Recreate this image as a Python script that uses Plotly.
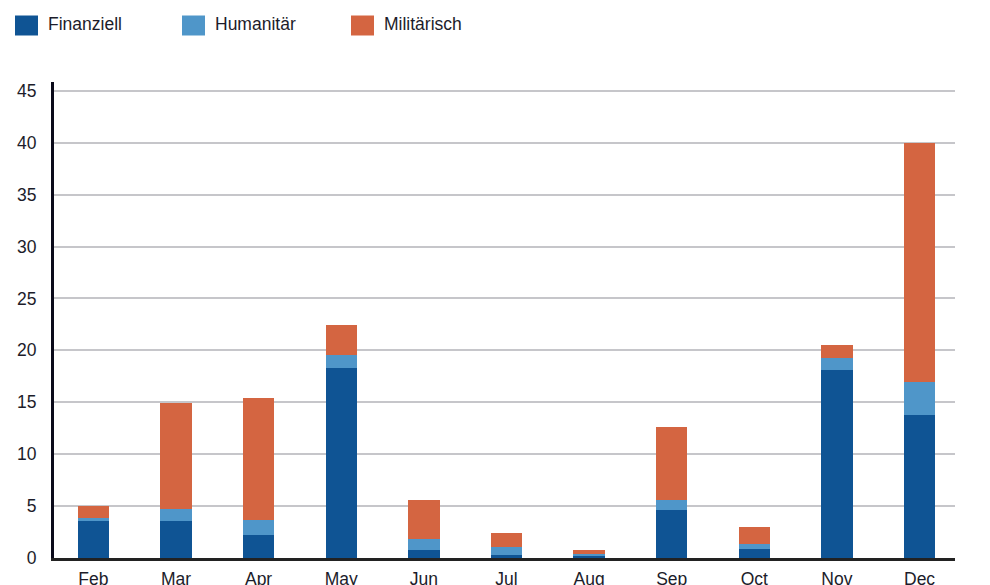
import plotly.graph_objects as go

months = ["Feb", "Mar", "Apr", "May", "Jun", "Jul", "Aug", "Sep", "Oct", "Nov", "Dec"]
finanziell = [3.6, 3.6, 2.2, 18.3, 0.8, 0.3, 0.25, 4.6, 0.9, 18.1, 13.75]
humanitaer = [0.3, 1.1, 1.5, 1.3, 1.0, 0.75, 0.15, 1.0, 0.45, 1.2, 3.2]
militaerisch = [1.1, 10.2, 11.7, 2.8, 3.8, 1.4, 0.4, 7.0, 1.6, 1.2, 23.0]
series_names = ["Finanziell", "Humanitär", "Militärisch"]
colors = ["#0f5494", "#4f96c9", "#d46541"]
yticks = [0, 5, 10, 15, 20, 25, 30, 35, 40, 45]

FONT = "Liberation Sans, Arial, Helvetica, sans-serif"
TXT = "#1c1c2a"

fig = go.Figure()
for name, vals, c in zip(series_names, [finanziell, humanitaer, militaerisch], colors):
    fig.add_trace(go.Bar(x=months, y=vals, name=name, marker=dict(color=c, line=dict(width=0)),
                         width=0.38, showlegend=False))

# custom legend (large square swatches)
leg_x = [15, 182, 351]
for name, c, lx in zip(series_names, colors, leg_x):
    fig.add_shape(type="rect", xref="paper", yref="paper",
                  x0=(lx - 54) / 901, x1=(lx + 23 - 54) / 901,
                  y0=(558.5 - 36) / 476, y1=(558.5 - 16) / 476,
                  fillcolor=c, line=dict(width=0))
    fig.add_annotation(xref="paper", yref="paper", x=(lx + 31 - 54) / 901, y=(558.5 - 25) / 476,
                       text=name, showarrow=False, xanchor="left", yanchor="middle",
                       font=dict(family=FONT, size=17.5, color=TXT))

fig.update_layout(
    width=990, height=585,
    margin=dict(l=54, r=35, t=82, b=27, autoexpand=False),
    paper_bgcolor="white", plot_bgcolor="white",
    barmode="stack",
    font=dict(family=FONT, size=17, color=TXT),
    xaxis=dict(type="category", range=[-0.476, 10.429], showline=True, linecolor="#222222",
               linewidth=3, showgrid=False, ticks="", tickfont=dict(size=17.5), ticklabelstandoff=3,
               automargin=False),
    yaxis=dict(range=[0, 45.85], tickvals=yticks, showgrid=True, gridcolor="#c6c6ca", gridwidth=2,
               showline=True, linecolor="#0a0a1a", linewidth=3, zeroline=False, ticks="",
               tickfont=dict(size=17.5), ticklabelstandoff=11, automargin=False),
)

fig.write_html("out.html")
